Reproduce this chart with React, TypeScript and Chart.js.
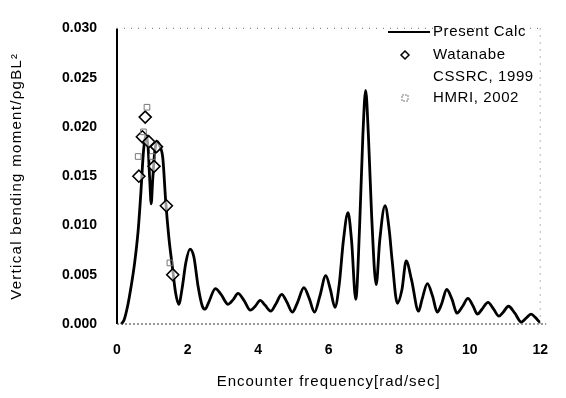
import React, { useEffect, useRef } from "react";
import { Chart, registerables } from "chart.js";

Chart.register(...registerables);

const calcFreq = [0.12, 0.2, 0.3, 0.4, 0.5, 0.6, 0.68, 0.75, 0.82, 0.88, 0.93, 0.97, 1.01, 1.07, 1.14, 1.22, 1.3, 1.38, 1.47, 1.57, 1.66, 1.75, 1.85, 1.95, 2.07, 2.18, 2.3, 2.42, 2.5, 2.6, 2.79, 2.95, 3.15, 3.3, 3.43, 3.6, 3.78, 3.92, 4.06, 4.2, 4.36, 4.5, 4.67, 4.82, 4.97, 5.12, 5.3, 5.45, 5.6, 5.75, 5.92, 6.05, 6.18, 6.3, 6.42, 6.55, 6.65, 6.77, 6.88, 6.97, 7.05, 7.13, 7.22, 7.35, 7.45, 7.6, 7.72, 7.8, 7.95, 8.08, 8.2, 8.35, 8.55, 8.65, 8.8, 8.95, 9.08, 9.2, 9.35, 9.5, 9.64, 9.8, 9.95, 10.1, 10.22, 10.35, 10.52, 10.68, 10.83, 10.95, 11.1, 11.28, 11.46, 11.6, 11.74, 11.88, 12.0, 12.15];
const calcVal = [0, 0.0004, 0.0018, 0.0038, 0.0062, 0.0095, 0.0135, 0.0175, 0.0192, 0.018, 0.0145, 0.0122, 0.0145, 0.0175, 0.0185, 0.018, 0.0168, 0.0125, 0.0088, 0.0058, 0.0032, 0.002, 0.0037, 0.0062, 0.0076, 0.0068, 0.0038, 0.0018, 0.0015, 0.0022, 0.0036, 0.003, 0.002, 0.0025, 0.0031, 0.0024, 0.0014, 0.0018, 0.0024, 0.0019, 0.0013, 0.002, 0.003, 0.0022, 0.0012, 0.0022, 0.0037, 0.0026, 0.0012, 0.0028, 0.0049, 0.0035, 0.0017, 0.004, 0.0085, 0.0113, 0.0085, 0.0025, 0.01, 0.019, 0.0237, 0.019, 0.011, 0.004, 0.0085, 0.012, 0.0095, 0.0065, 0.0021, 0.0035, 0.0064, 0.0045, 0.0013, 0.0025, 0.0041, 0.0028, 0.0012, 0.002, 0.0035, 0.0025, 0.0011, 0.0018, 0.0026, 0.0018, 0.001, 0.0015, 0.0022, 0.0015, 0.0008, 0.0012, 0.0018, 0.0011, 0.0002, 0.0006, 0.001, 0.0006, 0.0002, 0.0009];

const watanabeFreq = [0.62, 0.72, 0.8, 0.9, 1.05, 1.12, 1.4, 1.58];
const watanabeVal = [0.015, 0.019, 0.021, 0.0185, 0.016, 0.018, 0.012, 0.005];

const hmriFreq = [0.6, 0.75, 0.85, 1.0, 1.5];
const hmriVal = [0.017, 0.0195, 0.022, 0.017, 0.0062];

const xTickValues = [0, 2, 4, 6, 8, 10, 12];
const yTickValues = [0, 0.005, 0.01, 0.015, 0.02, 0.025, 0.03];

const legendLabels = ["Present Calc", "Watanabe", "CSSRC, 1999", "HMRI, 2002"];
const xTitle = "Encounter frequency[rad/sec]";
const yTitle = "Vertical bending moment/ρgBL²";

const FONT = "'Liberation Sans', Arial, sans-serif";

const framePlugin = {
  id: "frame",
  afterDatasetsDraw(chart: any) {
    const { ctx, chartArea } = chart;
    const { left, right, top, bottom } = chartArea;
    ctx.save();
    ctx.strokeStyle = "#000";
    ctx.lineWidth = 2;
    ctx.beginPath();
    ctx.moveTo(left, top);
    ctx.lineTo(left, bottom);
    ctx.stroke();
    ctx.lineWidth = 1.2;
    ctx.setLineDash([2, 2]);
    ctx.strokeStyle = "#333";
    ctx.beginPath();
    ctx.moveTo(left, bottom);
    ctx.lineTo(right + 6, bottom);
    ctx.stroke();
    ctx.strokeStyle = "#888";
    ctx.setLineDash([1, 6]);
    ctx.beginPath();
    ctx.moveTo(left, top);
    ctx.lineTo(right, top);
    ctx.moveTo(right, top);
    ctx.lineTo(right, bottom);
    ctx.stroke();
    ctx.restore();
  },
  afterDraw(chart: any) {
    const { ctx, chartArea } = chart;
    ctx.save();
    ctx.font = `15px ${FONT}`;
    (ctx as any).letterSpacing = "0.6px";
    ctx.fillStyle = "#000";
    ctx.textBaseline = "middle";
    const tx = 433;
    const rows = [32, 55, 77, 98];
    ctx.strokeStyle = "#000";
    ctx.lineWidth = 2;
    ctx.beginPath();
    ctx.moveTo(388, rows[0]);
    ctx.lineTo(430, rows[0]);
    ctx.stroke();
    ctx.lineWidth = 1.5;
    ctx.beginPath();
    ctx.moveTo(405, rows[1] - 4);
    ctx.lineTo(409, rows[1]);
    ctx.lineTo(405, rows[1] + 4);
    ctx.lineTo(401, rows[1]);
    ctx.closePath();
    ctx.stroke();
    ctx.strokeStyle = "#777";
    ctx.lineWidth = 1;
    ctx.setLineDash([2, 1]);
    ctx.strokeRect(402, rows[3] - 3, 6, 6);
    ctx.setLineDash([]);
    legendLabels.forEach((t, i) => ctx.fillText(t, tx, rows[i]));

    // axis titles
    (ctx as any).letterSpacing = "1px";
    ctx.textAlign = "center";
    ctx.fillText(xTitle, (chartArea.left + chartArea.right) / 2, 382);
    ctx.translate(17, (chartArea.top + chartArea.bottom) / 2);
    ctx.rotate(-Math.PI / 2);
    (ctx as any).letterSpacing = "1.3px";
    ctx.fillText(yTitle, 0, 0);
    ctx.restore();
  },
};

export default function App() {
  const ref = useRef<HTMLCanvasElement>(null);
  useEffect(() => {
    if (!ref.current) return;
    const chart = new Chart(ref.current, {
      type: "scatter",
      data: {
        datasets: [
          {
            label: legendLabels[0],
            data: calcFreq.map((x, i) => ({ x, y: calcVal[i] })),
            showLine: true,
            borderColor: "#000",
            borderWidth: 2.8,
            pointRadius: 0,
            cubicInterpolationMode: "monotone",
            clip: false as any,
            order: 2,
          },
          {
            label: legendLabels[1],
            data: watanabeFreq.map((x, i) => ({ x, y: watanabeVal[i] })),
            pointStyle: "rectRot",
            pointRadius: 6,
            pointBackgroundColor: "rgba(255,255,255,0.6)",
            pointBorderColor: "#000",
            pointBorderWidth: 1.6,
            order: 1,
          },
          {
            label: legendLabels[3],
            data: hmriFreq.map((x, i) => ({ x, y: hmriVal[i] })),
            pointStyle: "rect",
            pointRadius: 4,
            pointBackgroundColor: "rgba(255,255,255,0)",
            pointBorderColor: "#777",
            pointBorderWidth: 1,
            order: 0,
          },
        ],
      },
      options: {
        animation: false,
        responsive: false,
        layout: { padding: { left: 0, right: 16, top: 13, bottom: 0 } },
        plugins: { legend: { display: false }, tooltip: { enabled: false } },
        scales: {
          x: {
            type: "linear",
            min: 0,
            max: 12,
            afterBuildTicks: (s: any) => {
              s.ticks = xTickValues.map((v) => ({ value: v }));
            },
            afterFit: (s: any) => {
              s.height = 74;
            },
            grid: { display: false, drawTicks: false },
            border: { display: false },
            ticks: {
              color: "#000",
              font: { family: FONT, size: 14, weight: "bold" },
              padding: 18,
              maxRotation: 0,
              callback: (v: any) => String(v),
            },
          },
          y: {
            type: "linear",
            min: 0,
            max: 0.03,
            afterBuildTicks: (s: any) => {
              s.ticks = yTickValues.map((v) => ({ value: v }));
            },
            afterFit: (s: any) => {
              s.width = 117;
            },
            grid: { display: false, drawTicks: false },
            border: { display: false },
            ticks: {
              color: "#000",
              font: { family: FONT, size: 14, weight: "bold" },
              padding: 20,
              callback: (v: any) => Number(v).toFixed(3),
            },
          },
        },
      },
      plugins: [framePlugin],
    });
    return () => chart.destroy();
  }, []);
  return (
    <div style={{ position: "fixed", left: 0, top: 0, width: 566, height: 398, background: "#fff" }}>
      <canvas ref={ref} width={566} height={398} style={{ width: 566, height: 398 }} />
    </div>
  );
}
